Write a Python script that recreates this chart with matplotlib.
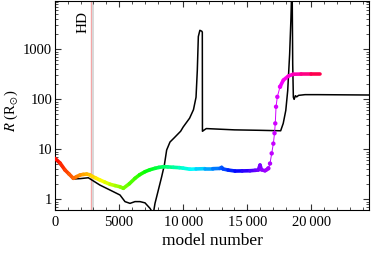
import numpy as np
import matplotlib
matplotlib.use("Agg")
import matplotlib.pyplot as plt
from matplotlib.collections import LineCollection
from matplotlib.ticker import FixedLocator, LogLocator, NullFormatter

plt.rcParams['font.family'] = ['Liberation Serif', 'DejaVu Serif']
plt.rcParams['mathtext.fontset'] = 'stix'

# black track (model number, radius in Rsun)
black_x = [0, 800, 1430, 2000, 2600, 2860, 3500, 4300, 5070, 5460, 5850, 6240,
           6630, 7020, 7410, 7600, 7700, 7800, 8060, 8320, 8530, 8710, 8970,
           9300, 9800, 10000, 10500, 10800, 11000, 11100, 11180, 11300, 11450,
           11490, 11500, 11600, 11800, 14000, 16000, 17600, 17800, 18000, 18150,
           18300, 18400, 18450, 18500, 18540, 18590, 18650, 18750, 18850, 19000,
           19500, 20500, 24500]
black_r = [6.4, 3.8, 2.55, 2.6, 2.7, 2.45, 1.93, 1.53, 1.22, 0.9, 0.83, 0.9,
           0.9, 0.85, 0.66, 0.55, 0.58, 0.83, 1.53, 2.83, 4.85, 9.7, 14,
           17, 23, 28, 42, 62, 110, 380, 1800, 2400, 2300,
           2200, 23, 24, 26, 24.5, 24, 23.5, 33, 60, 150,
           800, 4000, 12000, 12000, 500, 110, 100, 118, 112, 120,
           124, 124, 122]

# coloured track
col_x = [0, 400, 780, 1100, 1430, 1700, 1950, 2200, 2470, 2700, 2860, 3200,
         3510, 3900, 4290, 4700, 5070, 5330, 5800, 6240, 6600, 7020, 7400,
         7800, 8100, 8450, 8800, 9230, 9700, 10000, 10530, 11000, 11700, 12300,
         12870, 13000, 13100, 13500, 14040, 14600, 15210, 15600, 15860, 15990,
         16100, 16380, 16500, 16640, 16770, 16900, 17030, 17120, 17180, 17240,
         17340, 17550, 17810, 18200, 18590, 19200, 20000, 20670]
col_r = [6.6, 5.3, 3.86, 3.2, 2.63, 2.85, 3.06, 3.15, 3.2, 3.1, 2.92, 2.65,
         2.43, 2.2, 2.0, 1.88, 1.78, 1.66, 2.05, 2.63, 3.1, 3.57, 3.9,
         4.17, 4.35, 4.49, 4.45, 4.37, 4.3, 4.2, 4.0, 4.05, 4.1, 4.1,
         4.15, 4.35, 4.05, 3.85, 3.68, 3.7, 3.73, 3.8, 3.86, 4.85,
         3.9, 3.73, 3.9, 4.17, 5.2, 8.3, 13, 21, 33, 71,
         112, 178, 242, 292, 318, 320, 320, 320]
rise_start = 47  # steep, sparsely sampled part: dots on a thin line
rise_end = 55

hd_x = 2800
hd2_x = 3000

xticks = [0, 5000, 10000, 15000, 20000]
xticklabels = ['0', '5000', '10\u2009000', '15\u2009000', '20\u2009000']
yticks = [1, 10, 100, 1000]
yticklabels = ['1', '10', '100', '1000']

fig = plt.figure(figsize=(3.74, 2.54), dpi=100)
ax = fig.add_axes([0.147, 0.173, 0.840, 0.823])

ax.axvline(hd_x, color='#f4a6a6', lw=1.0, zorder=1)
ax.axvline(hd2_x, color='#d8d8d8', lw=1.4, zorder=1)

ax.plot(black_x, black_r, color='black', lw=1.1, zorder=2)

cx = np.array(col_x, dtype=float)
cr = np.array(col_r, dtype=float)
pts = np.column_stack([cx, cr]).reshape(-1, 1, 2)
segs = np.concatenate([pts[:-1], pts[1:]], axis=1)
hue = 0.5 * (cx[:-1] + cx[1:]) / cx[-1] * 0.98
widths = np.full(len(segs), 2.6)
widths[rise_start:rise_end] = 0.7
cmap = plt.get_cmap('hsv')
lc = LineCollection(segs, colors=cmap(hue), linewidths=widths, zorder=3,
                    capstyle='round', joinstyle='round')
ax.add_collection(lc)
ax.scatter(cx[rise_start:rise_end + 1], cr[rise_start:rise_end + 1], s=10,
           c=cmap(cx[rise_start:rise_end + 1] / cx[-1] * 0.98),
           zorder=4, linewidths=0)

ax.text(2150, 3500, 'HD', rotation=90, ha='center', va='center', fontsize=11)

ax.set_yscale('log')
ax.set_xlim(0, 24500)
ax.set_ylim(0.61, 9250)

ax.xaxis.set_major_locator(FixedLocator(xticks))
ax.set_xticklabels(xticklabels)
ax.xaxis.set_minor_locator(FixedLocator(np.arange(0, 24501, 1000)))
ax.yaxis.set_major_locator(FixedLocator(yticks))
ax.set_yticklabels(yticklabels)
ax.yaxis.set_minor_locator(LogLocator(base=10, subs=np.arange(2, 10)))
ax.yaxis.set_minor_formatter(NullFormatter())

ax.tick_params(which='both', direction='in', top=True, right=True,
               labelsize=10.5, color='#333333')
ax.tick_params(axis='y', pad=2)
ax.tick_params(axis='x', pad=4)
ax.tick_params(which='major', length=4, width=0.8)
ax.tick_params(which='minor', length=2, width=0.6)

ax.set_xlabel('model number', fontsize=12.5, labelpad=3)
ax.set_ylabel(r'$R$ (R$_{\odot}$)', fontsize=10.5)
ax.yaxis.set_label_coords(-0.112, 0.475)

fig.savefig('out.png', dpi=100)
